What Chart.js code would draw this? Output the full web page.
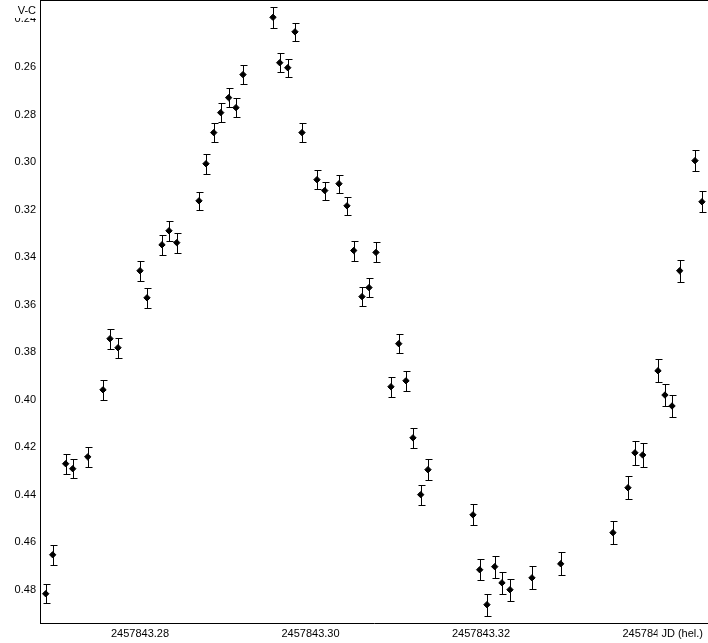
<!DOCTYPE html>
<html>
<head>
<meta charset="utf-8">
<title>V-C light curve</title>
<script src="https://cdn.jsdelivr.net/npm/chart.js@4.4.1/dist/chart.umd.min.js"></script>
<style>
    html, body { margin: 0; padding: 0; background: #fff; }
    #lightCurve { display: block; }
</style>
</head>
<body>
<canvas id="lightCurve" width="708" height="643"></canvas>
<script>
// Observation times (JD, heliocentric)
var jdValues = [
    2457843.26894, 2457843.26976, 2457843.27128, 2457843.27211, 2457843.27387,
    2457843.27566, 2457843.27648, 2457843.27742, 2457843.28000, 2457843.28082,
    2457843.28258, 2457843.28340, 2457843.28431, 2457843.28692, 2457843.28774,
    2457843.28865, 2457843.28947, 2457843.29040, 2457843.29126, 2457843.29208,
    2457843.29560, 2457843.29639, 2457843.29733, 2457843.29818, 2457843.29900,
    2457843.30076, 2457843.30167, 2457843.30334, 2457843.30428, 2457843.30507,
    2457843.30604, 2457843.30686, 2457843.30768, 2457843.30944, 2457843.31035,
    2457843.31120, 2457843.31202, 2457843.31293, 2457843.31378, 2457843.31906,
    2457843.31985, 2457843.32070, 2457843.32161, 2457843.32246, 2457843.32340,
    2457843.32598, 2457843.32935, 2457843.33548, 2457843.33724, 2457843.33806,
    2457843.33897, 2457843.34076, 2457843.34158, 2457843.34241, 2457843.34331,
    2457843.34510, 2457843.34592
];

// Differential magnitude V-C
var vcValues = [
    0.4816, 0.4652, 0.4269, 0.4290, 0.4240,
    0.3958, 0.3743, 0.3781, 0.3457, 0.3571,
    0.3348, 0.3289, 0.3339, 0.3163, 0.3007,
    0.2876, 0.2792, 0.2729, 0.2771, 0.2632,
    0.2391, 0.2582, 0.2603, 0.2452, 0.2876,
    0.3074, 0.3120, 0.3091, 0.3184, 0.3372,
    0.3566, 0.3528, 0.3380, 0.3945, 0.3764,
    0.3920, 0.4160, 0.4399, 0.4294, 0.4484,
    0.4715, 0.4862, 0.4702, 0.4770, 0.4799,
    0.4749, 0.4690, 0.4559, 0.4370, 0.4223,
    0.4232, 0.3878, 0.3980, 0.4026, 0.3457,
    0.2994, 0.3167
];

// Error of each measurement
var vcErrors = [
    0.0039, 0.0042, 0.0042, 0.0040, 0.0042,
    0.0042, 0.0042, 0.0042, 0.0042, 0.0042,
    0.0042, 0.0041, 0.0042, 0.0039, 0.0042,
    0.0039, 0.0040, 0.0039, 0.0041, 0.0040,
    0.0043, 0.0041, 0.0038, 0.0038, 0.0039,
    0.0039, 0.0038, 0.0038, 0.0039, 0.0042,
    0.0039, 0.0040, 0.0042, 0.0042, 0.0040,
    0.0042, 0.0042, 0.0042, 0.0043, 0.0044,
    0.0044, 0.0046, 0.0046, 0.0046, 0.0046,
    0.0048, 0.0048, 0.0048, 0.0048, 0.0050,
    0.0050, 0.0049, 0.0048, 0.0048, 0.0046,
    0.0044, 0.0044
];

// Tick labels
var xTicks = [2457843.28, 2457843.30, 2457843.32, 2457843.34];
var yTicks = [0.24, 0.26, 0.28, 0.30, 0.32, 0.34, 0.36, 0.38, 0.40, 0.42, 0.44, 0.46, 0.48];

var xTitle = 'JD (hel.)';
var yTitle = 'V-C';

document.addEventListener("DOMContentLoaded", function () {
    var labelFont = { family: "'Liberation Sans', Arial, sans-serif", size: 11 };

    // Error bars, drawn under the markers
    var errorBarPlugin = {
        id: 'errorBars',
        beforeDatasetsDraw: function (chart) {
            var ctx = chart.ctx;
            var xs = chart.scales.x;
            var ys = chart.scales.y;
            ctx.save();
            ctx.strokeStyle = '#000';
            ctx.lineWidth = 1;
            ctx.beginPath();
            for (var i = 0; i < jdValues.length; i++) {
                var px = Math.round(xs.getPixelForValue(jdValues[i])) + 0.5;
                var top = Math.round(ys.getPixelForValue(vcValues[i] - vcErrors[i])) + 0.5;
                var bottom = Math.round(ys.getPixelForValue(vcValues[i] + vcErrors[i])) + 0.5;
                ctx.moveTo(px, top);
                ctx.lineTo(px, bottom);
                ctx.moveTo(px - 3, top);
                ctx.lineTo(px + 4, top);
                ctx.moveTo(px - 3, bottom);
                ctx.lineTo(px + 4, bottom);
            }
            ctx.stroke();
            ctx.restore();
        }
    };

    // Top frame line and the two axis titles
    var framePlugin = {
        id: 'frame',
        afterDraw: function (chart) {
            var ctx = chart.ctx;
            var area = chart.chartArea;
            ctx.save();
            ctx.strokeStyle = '#000';
            ctx.lineWidth = 1;
            ctx.beginPath();
            ctx.moveTo(area.left, area.top + 0.5);
            ctx.lineTo(area.right, area.top + 0.5);
            ctx.stroke();

            ctx.font = labelFont.size + 'px ' + labelFont.family;
            ctx.textBaseline = 'middle';
            ctx.textAlign = 'right';

            // V-C sits over the top tick label
            ctx.fillStyle = '#fff';
            ctx.fillRect(0, 0, area.left - 1, 18);
            ctx.fillStyle = '#000';
            ctx.fillText(yTitle, area.left - 4, 11);

            // JD (hel.) sits over the last tick label
            var w = ctx.measureText(xTitle).width;
            var tx = area.right - 5;
            var ty = area.bottom + 11;
            ctx.fillStyle = '#fff';
            ctx.fillRect(tx - w - 4, area.bottom + 2, w + 9, chart.height - area.bottom - 2);
            ctx.fillStyle = '#000';
            ctx.fillText(xTitle, tx, ty);
            ctx.restore();
        }
    };

    var points = jdValues.map(function (jd, i) {
        return { x: jd, y: vcValues[i] };
    });

    var ctxCurve = document.getElementById('lightCurve').getContext('2d');
    var lightCurveChart = new Chart(ctxCurve, {
        type: 'scatter',
        data: {
            datasets: [{
                label: yTitle,
                data: points,
                pointStyle: 'rectRot',
                pointRadius: 3.2,
                pointBackgroundColor: '#000',
                pointBorderColor: '#000',
                pointBorderWidth: 1,
                clip: false
            }]
        },
        options: {
            responsive: false,
            animation: false,
            devicePixelRatio: 1,
            layout: { padding: 0, autoPadding: false },
            plugins: {
                legend: { display: false },
                tooltip: { enabled: false }
            },
            scales: {
                x: {
                    type: 'linear',
                    min: 2457843.26827,
                    max: 2457843.34663,
                    grid: { display: false, drawTicks: false },
                    border: { display: true, color: '#000', width: 1 },
                    ticks: {
                        color: '#000',
                        font: labelFont,
                        padding: 4,
                        maxRotation: 0,
                        callback: function (value) {
                            return value.toFixed(2);
                        }
                    },
                    afterBuildTicks: function (scale) {
                        scale.ticks = xTicks.map(function (v) { return { value: v }; });
                    },
                    afterFit: function (scale) {
                        scale.height = 20;
                        scale.paddingLeft = 0;
                        scale.paddingRight = 0;
                    }
                },
                y: {
                    type: 'linear',
                    reverse: true,
                    min: 0.23181,
                    max: 0.4939,
                    grid: { display: false, drawTicks: false },
                    border: { display: true, color: '#000', width: 1 },
                    ticks: {
                        color: '#000',
                        font: labelFont,
                        padding: 4,
                        callback: function (value) {
                            return value.toFixed(2);
                        }
                    },
                    afterBuildTicks: function (scale) {
                        scale.ticks = yTicks.map(function (v) { return { value: v }; });
                    },
                    afterFit: function (scale) {
                        scale.width = 40;
                        scale.paddingTop = 0;
                        scale.paddingBottom = 0;
                    }
                }
            }
        },
        plugins: [errorBarPlugin, framePlugin]
    });
});
</script>
</body>
</html>
